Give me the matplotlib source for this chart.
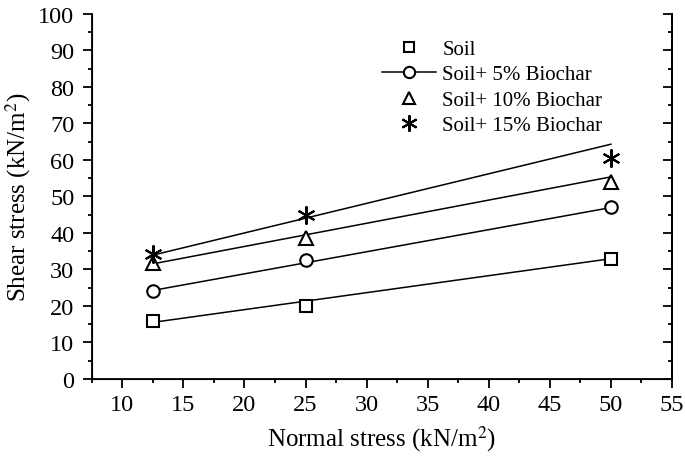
import matplotlib
matplotlib.use("Agg")
import matplotlib.pyplot as plt
from matplotlib.lines import Line2D
from matplotlib.ticker import MultipleLocator

plt.rcParams['font.family'] = ['Liberation Serif', 'DejaVu Serif']
plt.rcParams['mathtext.fontset'] = 'stix'

normal_stress = [12.5, 25, 50]
labels = ['Soil', 'Soil+ 5% Biochar', 'Soil+ 10% Biochar', 'Soil+ 15% Biochar']
soil = [15.8, 20.0, 33.0]
bio5 = [24.2, 32.5, 47.0]
bio10 = [31.8, 38.7, 54.0]
bio15 = [34.3, 45.0, 60.5]
series = [soil, bio5, bio10, bio15]
# fitted lines: (intercept, slope)
fit_intercept = [9.7, 16.7, 23.6, 23.8]
fit_slope = [0.465, 0.605, 0.635, 0.81]
fit_range = [12.5, 50]

markers = ['s', 'o', '^', (6, 2, 0)]
msizes = [8, 9, 10, 13]

fig = plt.figure(figsize=(6.85, 4.64), dpi=100)
ax = fig.add_axes([0.134, 0.181, 0.847, 0.787])

for vals, b, m, mk, ms in zip(series, fit_intercept, fit_slope, markers, msizes):
    xs = fit_range
    ys = [b + m * x for x in xs]
    ax.plot(xs, ys, color='black', lw=1.1, zorder=2)
    ax.plot(normal_stress, vals, linestyle='none', marker=mk, markersize=ms,
            markerfacecolor='white', markeredgecolor='black', markeredgewidth=1.5,
            zorder=3)

handles = []
for i, (mk, ms) in enumerate(zip(markers, msizes)):
    ls = '-' if i == 1 else 'none'
    handles.append(Line2D([], [], color='black', lw=1.1, linestyle=ls, marker=mk,
                          markersize=ms * 0.9, markerfacecolor='white',
                          markeredgecolor='black', markeredgewidth=1.5))
leg = ax.legend(handles, labels, loc='upper left', bbox_to_anchor=(0.50, 0.93),
                frameon=False, fontsize=15, handlelength=2.6, handletextpad=0.3,
                labelspacing=0.28, borderaxespad=0, borderpad=0)

ax.set_xlim(7.5, 55)
ax.set_ylim(0, 100)
ax.xaxis.set_major_locator(MultipleLocator(5))
ax.xaxis.set_minor_locator(MultipleLocator(2.5))
ax.yaxis.set_major_locator(MultipleLocator(10))
ax.yaxis.set_minor_locator(MultipleLocator(5))
ax.set_xticks([10, 15, 20, 25, 30, 35, 40, 45, 50, 55])

ax.spines['top'].set_visible(False)
for s in ['left', 'bottom', 'right']:
    ax.spines[s].set_linewidth(1.3)
ax.tick_params(axis='both', which='both', direction='out', width=1.3, labelsize=17.5)
ax.tick_params(which='major', length=6.5, pad=4)
ax.tick_params(axis='y', which='major', pad=6)
ax.tick_params(which='minor', length=3)

# right-side ticks pointing inward
ax2 = ax.twinx()
ax2.set_ylim(ax.get_ylim())
ax2.yaxis.set_major_locator(MultipleLocator(10))
ax2.yaxis.set_minor_locator(MultipleLocator(5))
ax2.tick_params(axis='y', which='both', direction='in', width=1.3, labelright=False)
ax2.tick_params(which='major', length=6.5)
ax2.tick_params(which='minor', length=3)
ax2.spines['top'].set_visible(False)
ax2.spines['right'].set_linewidth(1.3)

ax.set_xlabel('Normal stress (kN/m$^2$)', fontsize=18, labelpad=6)
ax.set_ylabel('Shear stress (kN/m$^2$)', fontsize=18, labelpad=4)

fig.savefig('out.png', dpi=100)
